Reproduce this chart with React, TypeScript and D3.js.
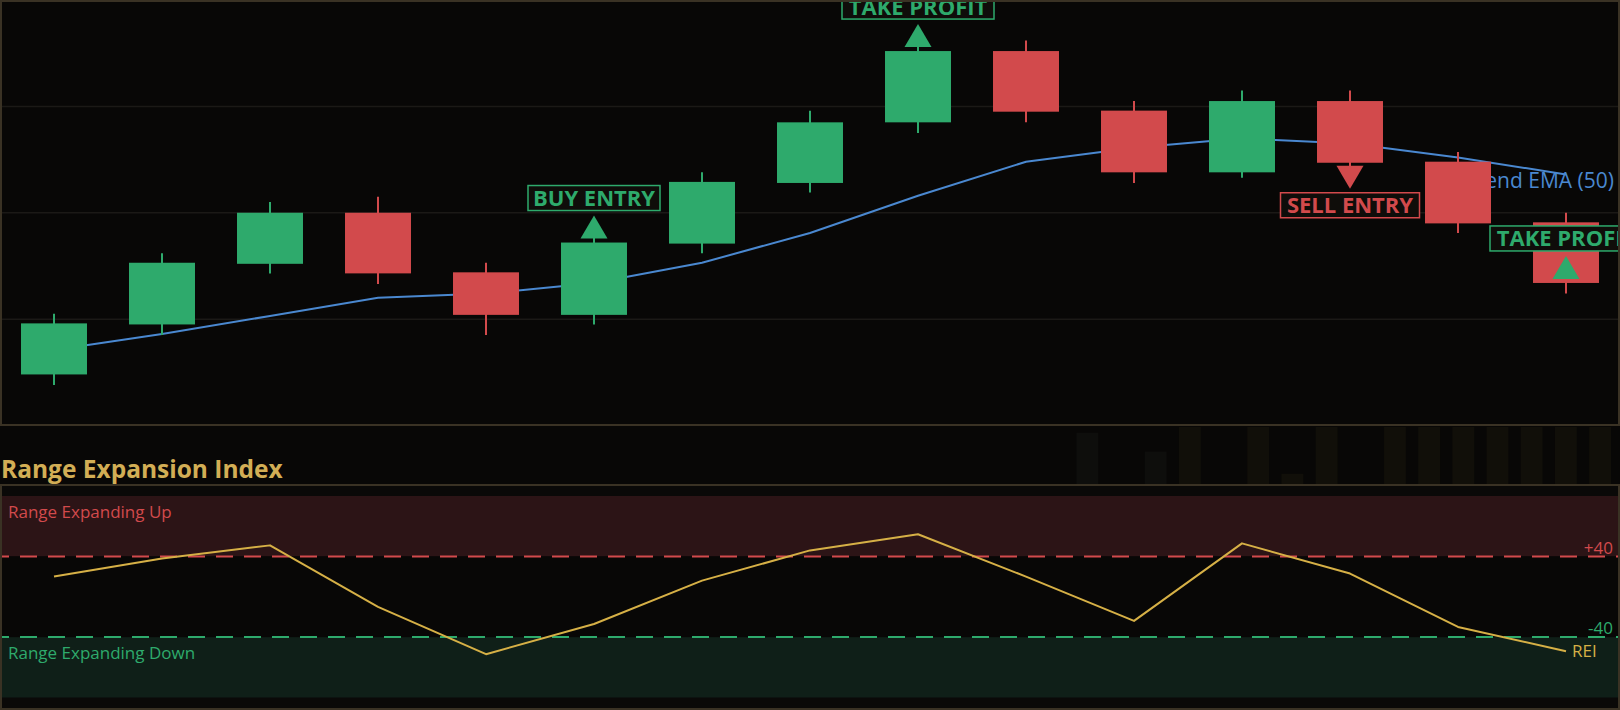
import React from "react";
import * as d3 from "d3";

// ---------- data ----------
const bars = ["1", "2", "3", "4", "5", "6", "7", "8", "9", "10", "11", "12", "13", "14", "15"];
const opens = [104.8, 109.5, 115.2, 120.0, 114.4, 110.4, 117.1, 122.8, 128.5, 135.2, 129.6, 123.8, 130.5, 124.8, 119.1];
const closes = [109.6, 115.3, 120.0, 114.3, 110.4, 117.2, 122.9, 128.5, 135.2, 129.5, 123.8, 130.5, 124.7, 119.0, 113.4];
const highs = [110.5, 116.2, 121.0, 121.5, 115.3, 118.1, 123.8, 129.6, 136.2, 136.2, 130.5, 131.5, 131.5, 125.7, 120.0];
const lows = [103.8, 108.5, 114.3, 113.3, 108.5, 109.5, 116.2, 121.9, 127.5, 128.5, 122.8, 123.3, 123.8, 118.1, 112.4];
const ema50 = [107.1, 108.6, 110.3, 112.0, 112.4, 113.4, 115.3, 118.1, 121.6, 124.8, 126.1, 127.0, 126.5, 125.2, 123.6];
const rei = [20, 38, 51, -10, -57, -27, 16, 46, 62, 20, -24, 53, 23, -30, -54];
const priceGrid = [110, 120, 130];
const reiUpper = 40;
const reiLower = -40;
const signalBars = ["6", "9", "13", "15"];
const signalText = ["BUY ENTRY", "TAKE PROFIT", "SELL ENTRY", "TAKE PROFIT"];
const signalDir = ["up", "up", "down", "up"];
const ghostVolume = [0, 0, 0.9, 0, 0.57, 1, 0, 1, 0.18, 1, 0, 1, 1, 1, 1, 1, 1, 1];

// ---------- style ----------
const W = 1620;
const H = 710;
const BG = "#080706";
const GREEN = "#2EAA6C";
const RED = "#D24A4C";
const BLUE = "#4A88D0";
const GOLD = "#D6B046";
const TITLE = "#D2AE55";
const BORDER = "#3A3224";
const FONT = "'Open Sans', 'Noto Sans', sans-serif";
const boxWidths: Record<string, number> = { "BUY ENTRY": 132, "TAKE PROFIT": 152, "SELL ENTRY": 139 };

export default function App() {
  const x = d3.scalePoint<string>().domain(bars).range([0, W]).padding(0.5);
  const step = x.step();
  const bodyW = step * 0.611;
  const yP = d3.scaleLinear().domain([100, 140]).range([425.5, 0]);
  const yR = d3.scaleLinear().domain([-100, 100]).range([697.5, 496]);

  const emaLine = d3
    .line<number>()
    .x((_, i) => x(bars[i]) as number)
    .y((d) => yP(d));
  const reiLine = d3
    .line<number>()
    .x((_, i) => x(bars[i]) as number)
    .y((d) => yR(d));

  const ghost = d3.scaleBand<number>().domain(d3.range(ghostVolume.length)).range([1008, 1611]).paddingInner(0.36);
  const gapTop = 427;
  const gapBottom = 484;

  const lastX = x(bars[bars.length - 1]) as number;

  return (
    <div>
      <style>{`body{margin:0;background:${BG};}`}</style>
      <svg width={W} height={H} style={{ display: "block", background: BG }} fontFamily={FONT}>
        <defs>
          <clipPath id="mainClip">
            <rect x={0} y={0} width={W - 2} height={425} />
          </clipPath>
          <clipPath id="subClip">
            <rect x={0} y={486} width={W - 2} height={222} />
          </clipPath>
        </defs>

        {/* main panel */}
        <rect x={0} y={0} width={W} height={426} fill={BG} />
        <g clipPath="url(#mainClip)">
          {priceGrid.map((p) => (
            <line key={p} x1={0} x2={W} y1={yP(p)} y2={yP(p)} stroke="#1B1916" strokeWidth={1.5} />
          ))}
          <path d={emaLine(ema50) || ""} fill="none" stroke={BLUE} strokeWidth={2} />
          <text x={1614} y={yP(ema50[ema50.length - 1]) + 14} textAnchor="end" fill={BLUE} fontSize={21}>
            Trend EMA (50)
          </text>
          {bars.map((b, i) => {
            const cx = x(b) as number;
            const up = closes[i] >= opens[i];
            const col = up ? GREEN : RED;
            const top = yP(Math.max(opens[i], closes[i]));
            const bot = yP(Math.min(opens[i], closes[i]));
            return (
              <g key={b}>
                <line x1={cx} x2={cx} y1={yP(highs[i])} y2={yP(lows[i])} stroke={col} strokeWidth={2} />
                <rect x={cx - bodyW / 2} y={top} width={bodyW} height={bot - top} fill={col} />
              </g>
            );
          })}
          {signalBars.map((b, k) => {
            const i = bars.indexOf(b);
            const cx = x(b) as number;
            const label = signalText[k];
            const isUp = signalDir[k] === "up";
            const col = label === "SELL ENTRY" ? RED : GREEN;
            const cy = yP(closes[i]);
            const bw = boxWidths[label];
            const triH = 23;
            const triW = 27;
            let tri: string;
            let boxY: number;
            if (isUp) {
              const base = cy - 4;
              const apex = base - triH;
              tri = `M${cx - triW / 2},${base}L${cx + triW / 2},${base}L${cx},${apex}Z`;
              boxY = apex - 5 - 25;
            } else {
              const base = cy + 3;
              const apex = base + triH;
              tri = `M${cx - triW / 2},${base}L${cx + triW / 2},${base}L${cx},${apex}Z`;
              boxY = apex + 4;
            }
            return (
              <g key={k}>
                <path d={tri} fill={col} />
                <rect x={cx - bw / 2} y={boxY} width={bw} height={25} fill="#0F0D0A" stroke={col} strokeWidth={1.5} />
                <text x={cx} y={boxY + 20.5} textAnchor="middle" fill={col} fontSize={22} fontWeight={700}>
                  {label}
                </text>
              </g>
            );
          })}
        </g>
        <rect x={1} y={1} width={W - 2} height={424} fill="none" stroke={BORDER} strokeWidth={2} />

        {/* gap with ghost volume */}
        {ghostVolume.map((v, k) =>
          v > 0 ? (
            <rect
              key={k}
              x={ghost(k)}
              y={gapBottom - v * (gapBottom - gapTop)}
              width={ghost.bandwidth()}
              height={v * (gapBottom - gapTop)}
              fill={k === 2 || k === 4 ? "#0E0E0C" : "#110F09"}
            />
          ) : null
        )}
        <text x={1} y={478} fill={TITLE} fontSize={24.5} fontWeight={700}>
          Range Expansion Index
        </text>

        {/* REI panel */}
        <rect x={0} y={485} width={W} height={225} fill="#0A0908" />
        <g clipPath="url(#subClip)">
          <rect x={0} y={yR(100)} width={W} height={yR(reiUpper) - yR(100)} fill="#2C1416" />
          <rect x={0} y={yR(reiLower)} width={W} height={yR(-100) - yR(reiLower)} fill="#0F1F18" />
          <rect x={0} y={yR(reiUpper)} width={W} height={yR(reiLower) - yR(reiUpper)} fill={BG} />
          <line x1={0} x2={W} y1={yR(reiUpper)} y2={yR(reiUpper)} stroke={RED} strokeWidth={2} strokeDasharray="17 11" strokeDashoffset={8} />
          <line x1={0} x2={W} y1={yR(reiLower)} y2={yR(reiLower)} stroke={GREEN} strokeWidth={2} strokeDasharray="17 11" strokeDashoffset={8} />
          <text x={8} y={518} fill={RED} fontSize={17}>
            Range Expanding Up
          </text>
          <text x={8} y={659} fill={GREEN} fontSize={17}>
            Range Expanding Down
          </text>
          <text x={1613} y={yR(reiUpper) - 2} textAnchor="end" fill={RED} fontSize={17}>
            +40
          </text>
          <text x={1613} y={yR(reiLower) - 3} textAnchor="end" fill={GREEN} fontSize={17}>
            -40
          </text>
          <path d={reiLine(rei) || ""} fill="none" stroke={GOLD} strokeWidth={2} strokeLinejoin="round" />
          <text x={lastX + 6} y={yR(rei[rei.length - 1]) + 6} fill={GOLD} fontSize={17}>
            REI
          </text>
        </g>
        <rect x={1} y={485} width={W - 2} height={224} fill="none" stroke={BORDER} strokeWidth={2} />
      </svg>
    </div>
  );
}
